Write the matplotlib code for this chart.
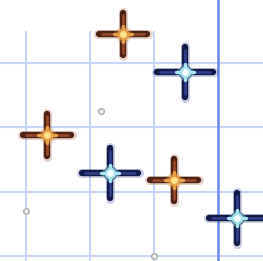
import numpy as np
import matplotlib
matplotlib.use('Agg')
import matplotlib.pyplot as plt
from matplotlib.path import Path
from matplotlib.markers import MarkerStyle

# data
orange_x = [1.52, 0.33, 2.31]
orange_y = [3.45, 1.88, 1.18]
blue_x = [2.48, 1.31, 3.30]
blue_y = [2.86, 1.29, 0.59]
gray_x = [1.17, 0.0, 2.0]
gray_y = [2.25, 0.70, 0.0]

grid_x = [0, 1, 2]
grid_y = [0, 1, 2, 3]
mark_x = 3

fig = plt.figure(figsize=(2.63, 2.61), dpi=100)
ax = fig.add_axes([0, 0, 1, 1])
ax.set_xlim(-0.406, 3.703)
ax.set_ylim(-0.078, 3.981)
ax.axis('off')

grid_c = '#c9d5fb'
for gy in grid_y:
    ax.axhline(gy, color=grid_c, lw=1.5, zorder=1)
for gx in grid_x:
    ax.plot([gx, gx], [-0.1, 3.48], color=grid_c, lw=1.5, zorder=1)
ax.axvline(mark_x, color='#6e86f2', lw=1.8, zorder=1)

# cross shaped path, horizontal arm a bit longer
cross = Path([(-1, 0), (1, 0), (0, -0.88), (0, 0.88)],
             [Path.MOVETO, Path.LINETO, Path.MOVETO, Path.LINETO])
cross_m = MarkerStyle(cross, capstyle='round')


def stars(xs, ys, size, dark, mid, glow, core, dots=False):
    # soft halo
    ax.plot(xs, ys, ls='none', marker=cross_m, ms=size, mew=6.5,
            mec=mid, mfc='none', alpha=0.25, zorder=3)
    ax.plot(xs, ys, ls='none', marker=cross_m, ms=size * 0.97, mew=4.6,
            mec=dark, mfc='none', zorder=3)
    ax.plot(xs, ys, ls='none', marker=cross_m, ms=size * 0.85, mew=1.8,
            mec=mid, mfc='none', zorder=4)
    if dots:
        ax.plot(xs, ys, ls='none', marker='o', ms=10, mew=0,
                mfc=dark, zorder=5)
    ax.plot(xs, ys, ls='none', marker='o', ms=12, mew=0,
            mfc=glow, alpha=0.35, zorder=6)
    ax.plot(xs, ys, ls='none', marker='o', ms=8.5, mew=0,
            mfc=glow, alpha=0.9, zorder=6)
    ax.plot(xs, ys, ls='none', marker=cross_m, ms=13, mew=2.4,
            mec=glow, mfc='none', zorder=6)
    ax.plot(xs, ys, ls='none', marker='o', ms=5, mew=0,
            mfc=core, zorder=7)


stars(orange_x, orange_y, 36, '#4a2216', '#9a4a2a', '#e8a048', '#ffe08a')
stars(blue_x, blue_y, 42, '#131a48', '#34408e', '#a8e4ee', '#f4ffff',
      dots=True)

ax.plot(gray_x, gray_y, ls='none', marker='o', ms=4, mew=1.2,
        mec='#b4b4b4', mfc='#f4f4f4', zorder=2)

fig.savefig('out.png', dpi=100)
